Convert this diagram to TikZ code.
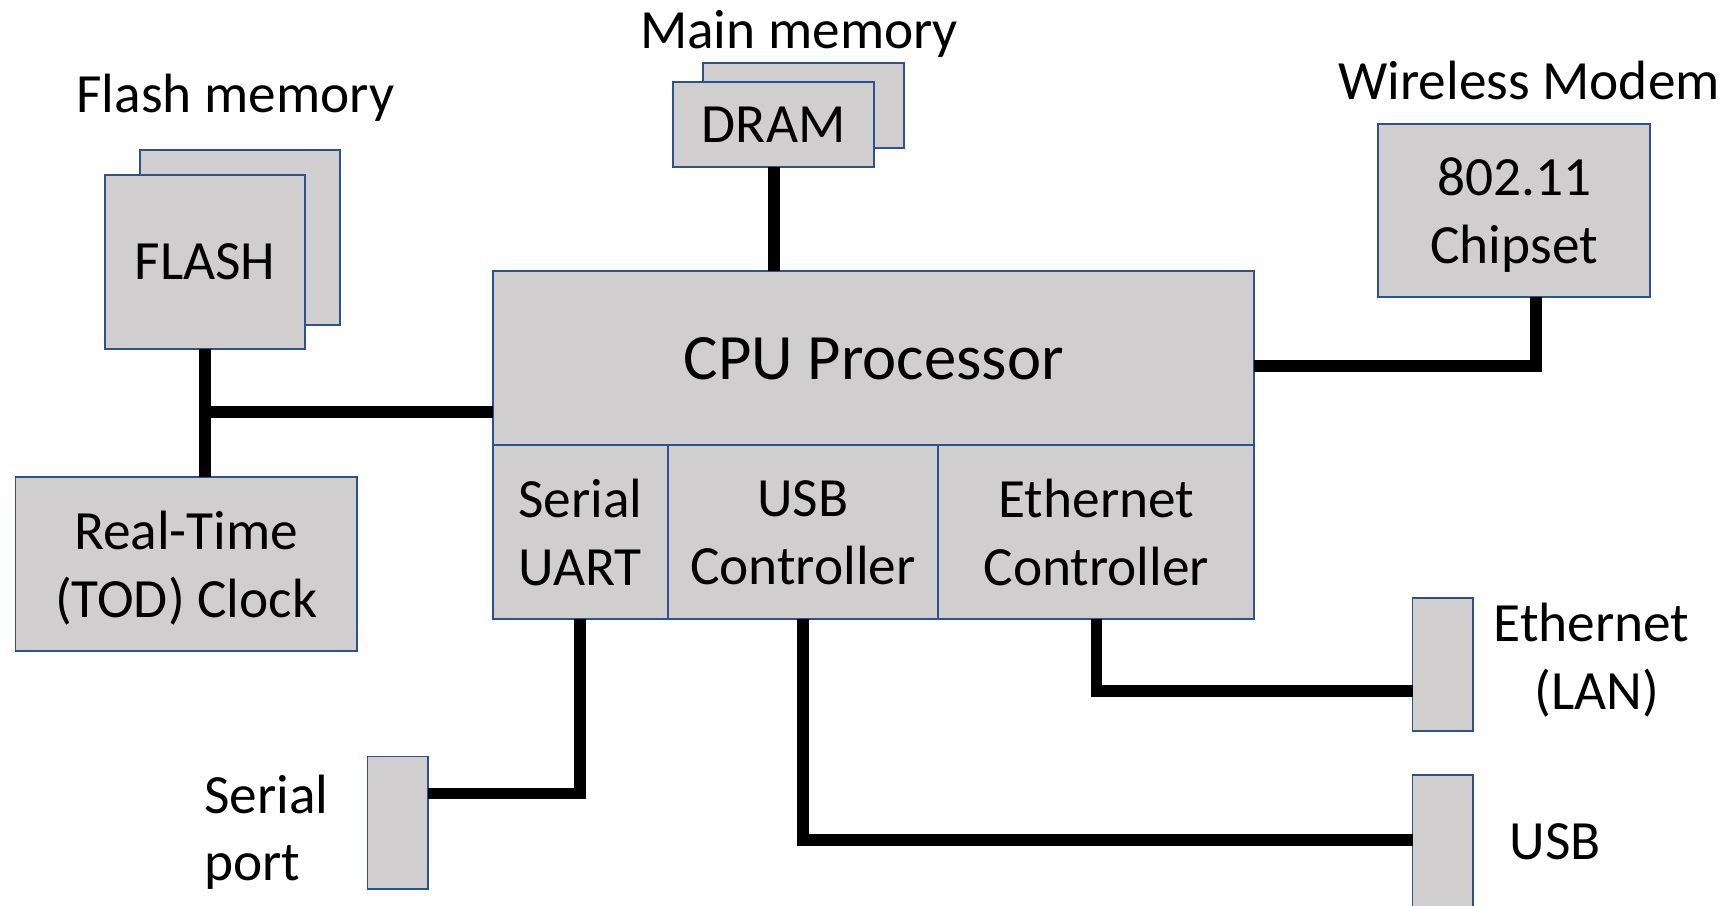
\documentclass[tikz,border=0pt]{standalone}
\usepackage{fontspec}
\setmainfont{Carlito}
\usetikzlibrary{positioning}
\definecolor{boxfill}{HTML}{D0CECE}
\definecolor{boxline}{HTML}{2F528F}

\begin{document}
\begin{tikzpicture}[
  box/.style={draw=boxline,fill=boxfill,line width=1pt,inner sep=0pt,outer sep=0pt,text depth=0pt,align=center,font=\fontsize{28.5}{35}\selectfont},
  port/.style={draw=boxline,fill=boxfill,line width=1pt,inner sep=0pt,outer sep=0pt,minimum width=1.1cm,minimum height=2.4cm},
  lbl/.style={inner sep=0pt,align=center,font=\fontsize{28.5}{35}\selectfont},
  bus/.style={line width=6pt}]
  \useasboundingbox (0,0) rectangle (31.36,16.38);
  % memories
  \node[box,minimum width=3.62cm,minimum height=3.16cm] (flashbk) at (4.35,12.08) {};
  \node[box,minimum width=3.62cm,minimum height=3.16cm] (flash) at (3.71,11.64) {FLASH};
  \node[lbl,anchor=base] (flashlbl) at (4.26,14.34) {Flash memory};
  \node[box,minimum width=3.64cm,minimum height=1.54cm] (drambk) at (14.54,14.47) {};
  \node[box,minimum width=3.64cm,minimum height=1.54cm] (dram) at (14.0,14.12) {DRAM};
  \node[lbl,anchor=base] (dramlbl) at (14.46,15.51) {Main memory};
  \node[box,minimum width=6.18cm,minimum height=3.14cm] (rtc) at (3.37,6.17) {Real-Time\\(TOD) Clock};
  % processor
  \node[box,minimum width=13.78cm,minimum height=3.16cm,font=\fontsize{33.3}{40}\selectfont] (cpu) at (15.81,9.9) {CPU Processor};
  \node[box,minimum width=3.16cm,minimum height=3.14cm,below right=0pt and 0pt of cpu.south west] (uart) {Serial\\UART};
  \node[box,minimum width=4.9cm,minimum height=3.14cm,right=0pt of uart] (usbc) {USB\\Controller};
  \node[box,minimum width=5.72cm,minimum height=3.14cm,right=0pt of usbc] (ethc) {Ethernet\\Controller};
  % modem
  \node[box,minimum width=4.92cm,minimum height=3.14cm] (chip) at (27.4,12.57) {802.11\\Chipset};
  \node[lbl,anchor=base] (chiplbl) at (27.67,14.58) {Wireless Modem};
  % ports
  \node[port] (sport) at (7.2,1.49) {};
  \node[lbl,align=left,anchor=west] (sportlbl) at (3.69,1.32) {Serial\\port};
  \node[port] (eport) at (26.11,4.36) {};
  \node[lbl] (eportlbl) at (28.8,4.43) {Ethernet\\\hspace{0.2cm}(LAN)};
  \node[port,anchor=north] (uport) at (26.11,2.36) {};
  \node[lbl] (uportlbl) at (28.14,1.15) {USB};
  % buses
  \coordinate (tee) at (3.71,8.92);
  \draw[bus] (flash.south) -- (rtc.north -| flash.south);
  \draw[bus] (tee) -- (tee -| cpu.west);
  \draw[bus] (dram.south) -- (dram.south |- cpu.north);
  \coordinate (wbend) at (27.8,9.76);
  \draw[bus] (wbend |- chip.south) -- (wbend) -- (wbend -| cpu.east);
  \coordinate (sbend) at (uart.south |- 0,2.02);
  \draw[bus] (uart.south) -- (sbend) -- (sbend -| sport.east);
  \coordinate (ubend) at (usbc.south |- 0,1.18);
  \draw[bus] (usbc.south) -- (ubend) -- (ubend -| uport.west);
  \coordinate (ebend) at (ethc.south |- 0,3.88);
  \draw[bus] (ethc.south) -- (ebend) -- (ebend -| eport.west);
\end{tikzpicture}
\end{document}
